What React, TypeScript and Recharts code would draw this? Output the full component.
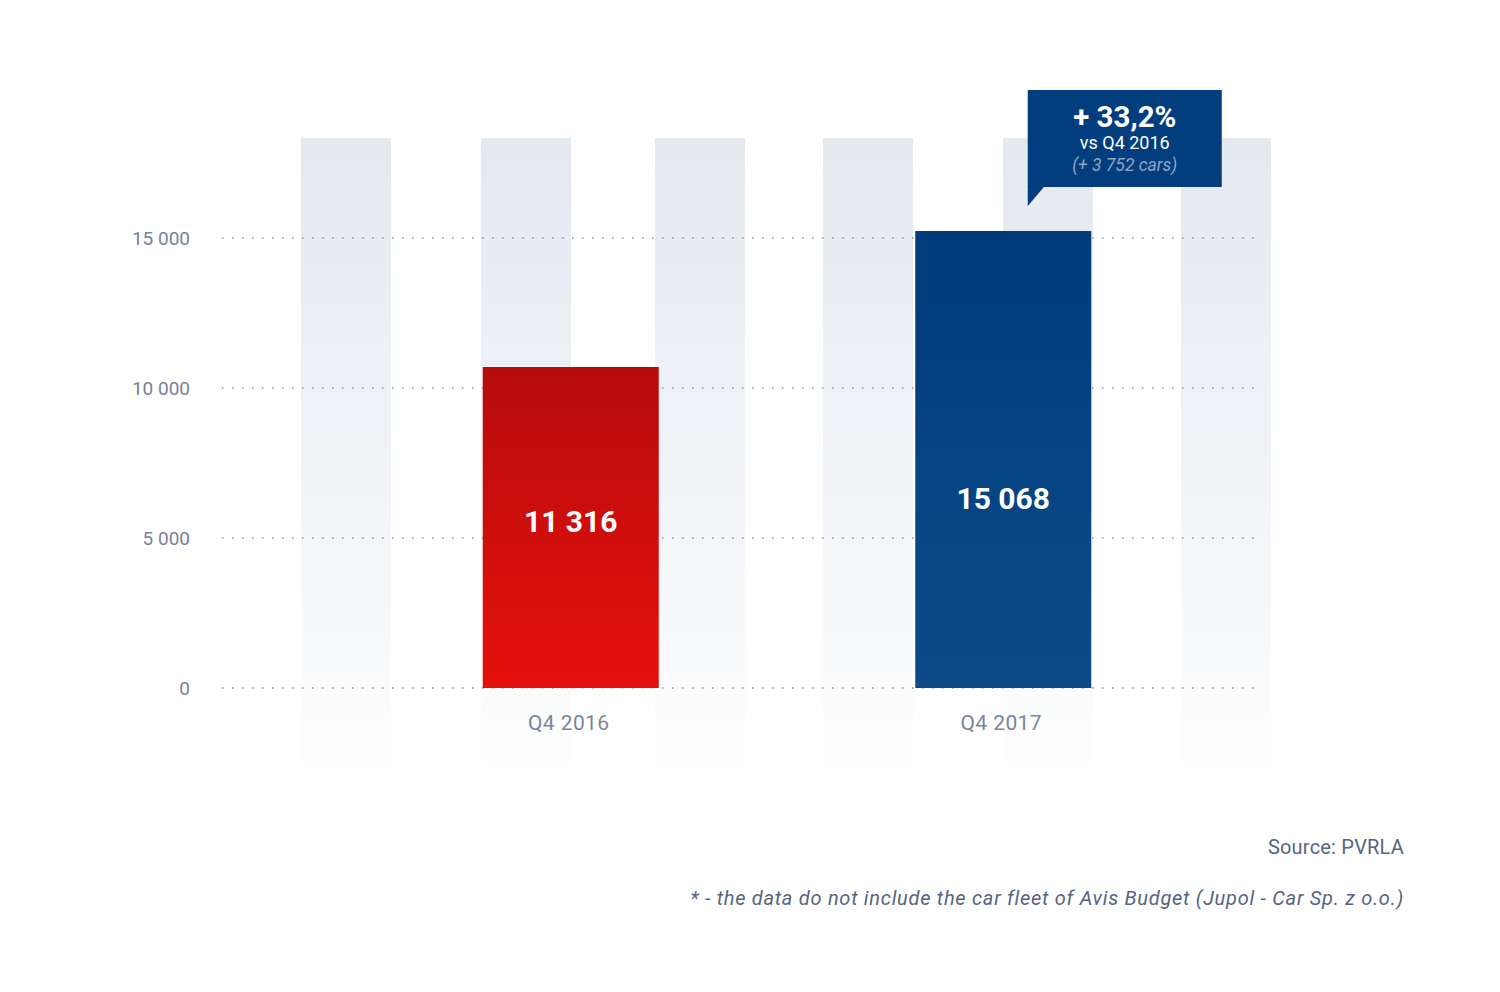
import React from "react";
import { BarChart, Bar, XAxis, YAxis, CartesianGrid, Cell, LabelList } from "recharts";

const categories = ["Q4 2016", "Q4 2017"];
const barValues = [10700, 15233];
const valueLabels = ["11 316", "15 068"];
const labelAt = [5570, 6330];
const yTicks = [0, 5000, 10000, 15000];
const yTickLabels = ["0", "5 000", "10 000", "15 000"];
const calloutLines = ["+ 33,2%", "vs Q4 2016", "(+ 3 752 cars)"];
const sourceText = "Source: PVRLA";
const noteText = "* - the data do not include the car fleet of Avis Budget (Jupol - Car Sp. z o.o.)";

const data = categories.map((c, i) => ({ category: c, value: barValues[i] }));

const FONT = "Roboto, 'Open Sans', sans-serif";
const STRIPES = [301, 481, 655, 823, 1003, 1181];

const ValueLabel = (props: any) => {
  const { x, y, width, height, index } = props;
  const v = barValues[index];
  const ly = y + height * (1 - labelAt[index] / v);
  return (
    <text x={x + width / 2} y={ly} dy={11} textAnchor="middle" fill="#ffffff" fontFamily={FONT} fontWeight={700} fontSize={30}>
      {valueLabels[index]}
    </text>
  );
};

const CategoryLabel = (props: any) => {
  const { x, y, width, height, index } = props;
  return (
    <text x={x + width / 2 - 2} y={y + height + 34} dy={7.5} textAnchor="middle" fill="#7b869b" fontFamily={FONT} fontSize={21} letterSpacing={0.4}>
      {categories[index]}
    </text>
  );
};

const Callout = (props: any) => {
  const { x, y, width, index } = props;
  if (index !== 1) return null;
  const cx = x + width / 2;
  const left = cx + 24.5;
  const right = left + 194;
  const bottom = y - 44;
  const top = y - 141;
  const mid = (left + right) / 2;
  return (
    <g>
      <rect x={left} y={top} width={right - left} height={bottom - top} fill="#023e7e" />
      <polygon points={`${left},${bottom - 1} ${left + 17},${bottom - 1} ${left},${y - 25}`} fill="#023e7e" />
      <text x={mid} y={top + 37} textAnchor="middle" fill="#ffffff" fontFamily={FONT} fontWeight={700} fontSize={29.5}>
        {calloutLines[0]}
      </text>
      <text x={mid} y={top + 59} textAnchor="middle" fill="#ffffff" fontFamily={FONT} fontSize={18}>
        {calloutLines[1]}
      </text>
      <text x={mid} y={top + 81} textAnchor="middle" fill="#8ea5c6" fontFamily={FONT} fontStyle="italic" fontSize={17.5}>
        {calloutLines[2]}
      </text>
    </g>
  );
};

const YTick = (props: any) => {
  const { x, y, payload } = props;
  const i = yTicks.indexOf(payload.value);
  return (
    <text x={x} y={y} dy={6.5} textAnchor="end" fill="#76819a" fontFamily={FONT} fontSize={19}>
      {yTickLabels[i]}
    </text>
  );
};

export default function App() {
  return (
    <div style={{ position: "absolute", left: 0, top: 0, width: 1500, height: 992, background: "#ffffff", overflow: "hidden" }}>
      {STRIPES.map((sx) => (
        <div
          key={sx}
          style={{
            position: "absolute",
            left: sx,
            top: 138,
            width: 90,
            height: 630,
            background: "linear-gradient(to bottom, #e4e9f0 0%, #f3f5f8 60%, #fefefe 100%)",
          }}
        />
      ))}
      <div style={{ position: "absolute", left: 0, top: 0 }}>
        <BarChart width={1500} height={992} data={data} margin={{ top: 138, right: 245, bottom: 224, left: 122 }}>
          <defs>
            <linearGradient id="gRed" x1="0" y1="0" x2="0" y2="1">
              <stop offset="0%" stopColor="#b70c0c" />
              <stop offset="100%" stopColor="#e5100c" />
            </linearGradient>
            <linearGradient id="gBlue" x1="0" y1="0" x2="0" y2="1">
              <stop offset="0%" stopColor="#003b7b" />
              <stop offset="100%" stopColor="#0c4b88" />
            </linearGradient>
          </defs>
          <CartesianGrid
            vertical={false}
            stroke="#8c93a0"
            strokeWidth={1.5}
            strokeDasharray="1.5 8.5"
            syncWithTicks
          />
          <XAxis dataKey="category" hide height={0} padding={{ left: 132.75, right: 35.25 }} />
          <YAxis
            type="number"
            width={100}
            domain={[-8000 / 3, 55000 / 3]}
            ticks={yTicks}
            axisLine={false}
            tickLine={false}
            tickSize={6}
            tickMargin={26}
            tick={<YTick />}
            interval={0}
          />
          <Bar dataKey="value" barSize={176} isAnimationActive={false}>
            {data.map((d, i) => (
              <Cell key={d.category} fill={i === 0 ? "url(#gRed)" : "url(#gBlue)"} />
            ))}
            <LabelList dataKey="value" content={<ValueLabel />} />
            <LabelList dataKey="category" content={<CategoryLabel />} />
            <LabelList dataKey="value" content={<Callout />} />
          </Bar>
        </BarChart>
      </div>
      <div style={{ position: "absolute", right: 96, top: 834, fontFamily: FONT, fontSize: 20, letterSpacing: 0.2, color: "#56657f", lineHeight: "26px", whiteSpace: "nowrap" }}>
        {sourceText}
      </div>
      <div style={{ position: "absolute", right: 96, top: 885, fontFamily: FONT, fontSize: 20, fontStyle: "italic", letterSpacing: 0.73, color: "#56657f", lineHeight: "26px", whiteSpace: "nowrap" }}>
        {noteText}
      </div>
    </div>
  );
}
